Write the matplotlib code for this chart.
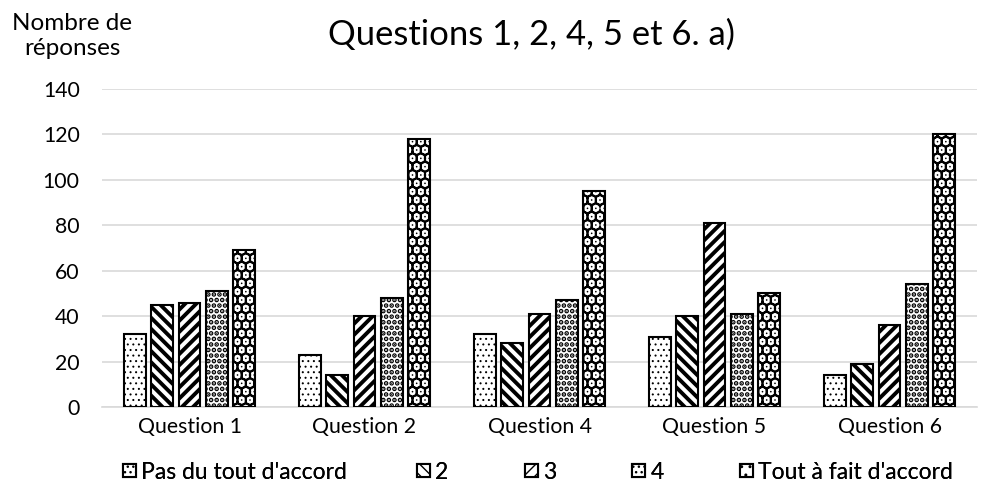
import matplotlib.pyplot as plt
import numpy as np

plt.rcParams['font.family'] = ['Lato', 'DejaVu Sans']

questions = ['Question 1', 'Question 2', 'Question 4', 'Question 5', 'Question 6']
series = ["Pas du tout d'accord", '2', '3', '4', "Tout à fait d'accord"]
pas_du_tout = [32, 23, 32, 31, 14]
deux = [45, 14, 28, 40, 19]
trois = [46, 40, 41, 81, 36]
quatre = [51, 48, 47, 41, 54]
tout_a_fait = [69, 118, 95, 50, 120]
valeurs = [pas_du_tout, deux, trois, quatre, tout_a_fait]
hachures = ['...', '\\\\\\', '///', '...', '..']
epaisseurs = [0.7, 2.8, 2.8, 2.4, 6.5]

W, H = 984, 486
fig = plt.figure(figsize=(W / 100, H / 100), dpi=100)
ax = fig.add_axes([102 / W, 1 - 407 / H, 875 / W, 318 / H])
rend = fig.canvas.get_renderer()


def taille_pour(texte, largeur, ref=20):
    # taille de police qui donne la largeur voulue (en pixels)
    t = fig.text(0, 0, texte, fontsize=ref)
    w = t.get_window_extent(rend).width
    t.remove()
    return ref * largeur / w


x = np.arange(len(questions))
w = 0.125
pas = 0.155
poignees = []
for i, (nom, v, h, ep) in enumerate(zip(series, valeurs, hachures, epaisseurs)):
    barres = ax.bar(x + (i - 2) * pas, v, w, facecolor='white', edgecolor='black',
                    linewidth=1.5, hatch=h, label=nom, zorder=3)
    for b in barres:
        b.set_hatch_linewidth(ep)
    poignees.append(barres)

t_axes = taille_pour('140', 37)
ax.set_ylim(0, 140)
ax.set_yticks(range(0, 141, 20))
ax.set_xlim(-0.5, 4.5)
ax.set_xticks(x)
ax.set_xticklabels(questions)
ax.grid(axis='y', color='#d9d9d9', linewidth=1.2, zorder=0)
for s in ['top', 'right', 'left']:
    ax.spines[s].set_visible(False)
ax.spines['bottom'].set_color('#d9d9d9')
ax.spines['bottom'].set_linewidth(1.2)
ax.tick_params(length=0, labelsize=t_axes)
ax.tick_params(axis='y', pad=16)
ax.tick_params(axis='x', pad=7)

t_titre = taille_pour('Questions 1, 2, 4, 5', 295)
fig.text(328 / W, 1 - 45 / H, 'Questions 1, 2, 4, 5 et 6. a)', fontsize=t_titre,
         ha='left', va='baseline')

t_lab = taille_pour('Nombre de', 120)
fig.text(72 / W, 1 - 30 / H, 'Nombre de', fontsize=t_lab, ha='center', va='baseline')
fig.text(72 / W, 1 - 55 / H, 'réponses', fontsize=t_lab, ha='center', va='baseline')

t_leg = taille_pour("Pas du tout d'accord", 205)
pos_leg = [123, 417, 525, 632, 740]
for barres, nom, px in zip(poignees, series, pos_leg):
    leg = fig.legend(handles=[barres], labels=[nom], loc='center left',
                     bbox_to_anchor=(px / W, 1 - 472 / H), frameon=False,
                     fontsize=t_leg, handlelength=0.55, handleheight=0.55,
                     handletextpad=0.25, borderpad=0, borderaxespad=0)
    fig.add_artist(leg)

fig.savefig('out.png', dpi=100)
